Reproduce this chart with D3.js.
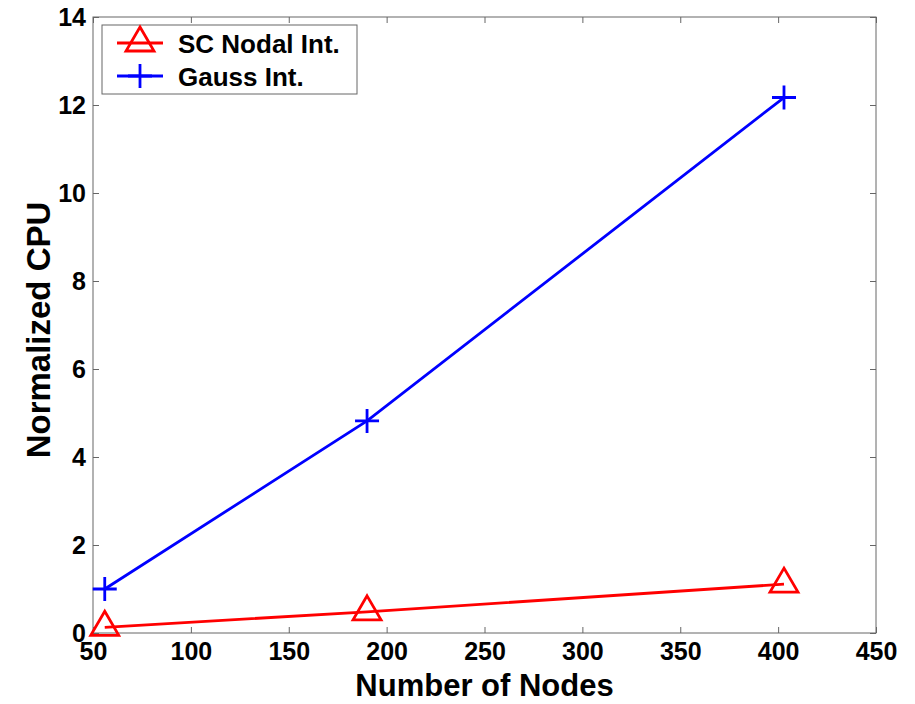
<!DOCTYPE html>
<html>
<head>
<meta charset="utf-8">
<script src="https://cdn.jsdelivr.net/npm/d3@7"></script>
<style>
  body { margin: 0; background: #fff; }
  text { font-family: "Liberation Sans", Arial, sans-serif; font-weight: bold; }
</style>
</head>
<body>
<div id="chart"></div>
<script>
const nodes = [56, 190, 403];
const scNodal = [0.13, 0.48, 1.11];
const gauss = [1.0, 4.82, 12.17];
const xTicks = [50, 100, 150, 200, 250, 300, 350, 400, 450];
const yTicks = [0, 2, 4, 6, 8, 10, 12, 14];

const W = 915, H = 704;
const m = { left: 93, right: 39, top: 17, bottom: 71 };
const iw = W - m.left - m.right, ih = H - m.top - m.bottom;
const axisCol = "#666";

const svg = d3.select("#chart").append("svg")
    .attr("width", W)
    .attr("height", H);

const x = d3.scaleLinear().domain([50, 450]).range([0, iw]);
const y = d3.scaleLinear().domain([0, 14]).range([ih, 0]);

const g = svg.append("g")
    .attr("transform", "translate(" + m.left + "," + m.top + ")");

// frame
g.append("rect")
    .attr("width", iw)
    .attr("height", ih)
    .attr("fill", "none")
    .attr("stroke", axisCol)
    .attr("stroke-width", 1);

// inward ticks, all four sides
const tl = 6;
const styleAxis = (sel) => {
    sel.select(".domain").remove();
    sel.selectAll(".tick line").attr("stroke", axisCol);
    sel.selectAll(".tick text").attr("fill", "#000").style("font-size", "25px");
};
g.append("g")
    .attr("transform", "translate(0," + ih + ")")
    .call(d3.axisBottom(x).tickValues(xTicks).tickSizeInner(-tl).tickPadding(9).tickSizeOuter(0))
    .call(styleAxis);
g.append("g")
    .call(d3.axisTop(x).tickValues(xTicks).tickSizeInner(-tl).tickSizeOuter(0).tickFormat(""))
    .call(styleAxis);
g.append("g")
    .call(d3.axisLeft(y).tickValues(yTicks).tickSizeInner(-tl).tickPadding(7).tickSizeOuter(0))
    .call(styleAxis);
g.append("g")
    .attr("transform", "translate(" + iw + ",0)")
    .call(d3.axisRight(y).tickValues(yTicks).tickSizeInner(-tl).tickSizeOuter(0).tickFormat(""))
    .call(styleAxis);

// series
const line = d3.line().x(d => x(d[0])).y(d => y(d[1]));
const gaussPts = nodes.map((n, i) => [n, gauss[i]]);
const scPts = nodes.map((n, i) => [n, scNodal[i]]);

g.append("path")
    .attr("d", line(gaussPts))
    .attr("fill", "none")
    .attr("stroke", "#0000ff")
    .attr("stroke-width", 2.8);
g.append("path")
    .attr("d", line(scPts))
    .attr("fill", "none")
    .attr("stroke", "#ff0000")
    .attr("stroke-width", 2.8);

const plus = "M-12,0H12M0,-12V12";
const tri = "M0,-16L14,8H-14Z";

g.selectAll(".gm").data(gaussPts).enter().append("path")
    .attr("class", "gm")
    .attr("d", plus)
    .attr("transform", d => "translate(" + x(d[0]) + "," + y(d[1]) + ")")
    .attr("fill", "none")
    .attr("stroke", "#0000ff")
    .attr("stroke-width", 2.8);
g.selectAll(".sm").data(scPts).enter().append("path")
    .attr("class", "sm")
    .attr("d", tri)
    .attr("transform", d => "translate(" + x(d[0]) + "," + y(d[1]) + ")")
    .attr("fill", "none")
    .attr("stroke", "#ff0000")
    .attr("stroke-width", 2.8);

// legend
const lg = svg.append("g").attr("transform", "translate(102,25)");
lg.append("rect")
    .attr("width", 255)
    .attr("height", 69)
    .attr("fill", "#fff")
    .attr("stroke", axisCol)
    .attr("stroke-width", 1);
const items = [
    { label: "SC Nodal Int.", color: "#ff0000", sym: tri, ly: 18 },
    { label: "Gauss Int.", color: "#0000ff", sym: plus, ly: 51 }
];
items.forEach((it) => {
    lg.append("line")
        .attr("x1", 15).attr("x2", 61)
        .attr("y1", it.ly).attr("y2", it.ly)
        .attr("stroke", it.color)
        .attr("stroke-width", 2.8);
    lg.append("path")
        .attr("d", it.sym)
        .attr("transform", "translate(38," + it.ly + ")")
        .attr("fill", "none")
        .attr("stroke", it.color)
        .attr("stroke-width", 2.8);
    lg.append("text")
        .attr("x", 76)
        .attr("y", it.ly + 10)
        .style("font-size", "26px")
        .text(it.label);
});

// axis labels
svg.append("text")
    .attr("x", m.left + iw / 2)
    .attr("y", 696)
    .attr("text-anchor", "middle")
    .style("font-size", "31px")
    .text("Number of Nodes");
svg.append("text")
    .attr("transform", "translate(50," + (m.top + ih / 2 + 5) + ") rotate(-90)")
    .attr("text-anchor", "middle")
    .style("font-size", "33px")
    .text("Normalized CPU");
</script>
</body>
</html>
